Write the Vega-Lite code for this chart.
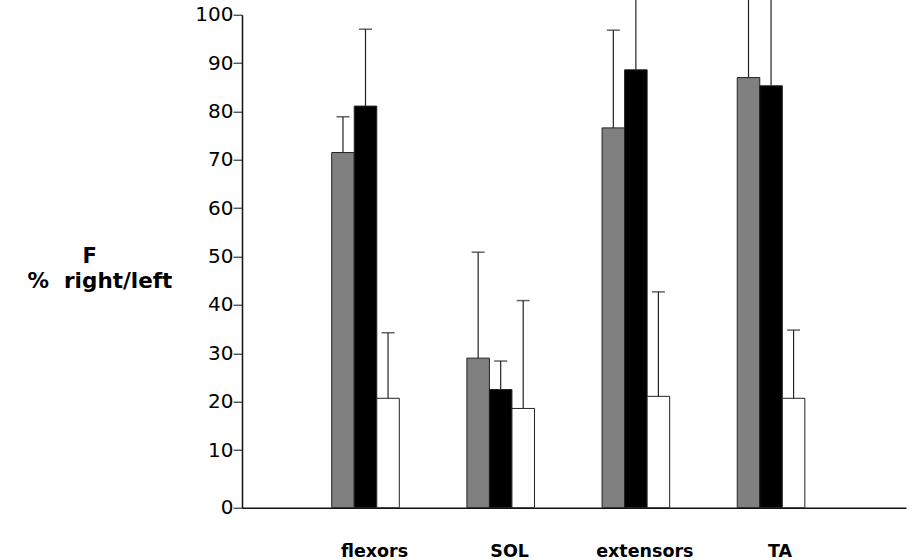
{
  "$schema": "https://vega.github.io/schema/vega-lite/v6.json",
  "autosize": {"type": "none"},
  "width": 664,
  "height": 493,
  "padding": {"left": 242, "top": 14.7, "right": 15, "bottom": 52.3},
  "background": "white",
  "config": {"view": {"stroke": null}},
  "data": {
    "values": [
      {"muscle": "flexors", "group": "g1", "value": 71.5, "hi": 78.9},
      {"muscle": "flexors", "group": "g2", "value": 81.1, "hi": 97.0},
      {"muscle": "flexors", "group": "g3", "value": 20.7, "hi": 34.25},
      {"muscle": "SOL", "group": "g1", "value": 29.0, "hi": 50.9},
      {"muscle": "SOL", "group": "g2", "value": 22.5, "hi": 28.4},
      {"muscle": "SOL", "group": "g3", "value": 18.6, "hi": 40.9},
      {"muscle": "extensors", "group": "g1", "value": 76.6, "hi": 96.8},
      {"muscle": "extensors", "group": "g2", "value": 88.6, "hi": 110},
      {"muscle": "extensors", "group": "g3", "value": 21.1, "hi": 42.7},
      {"muscle": "TA", "group": "g1", "value": 87.0, "hi": 115},
      {"muscle": "TA", "group": "g2", "value": 85.3, "hi": 112},
      {"muscle": "TA", "group": "g3", "value": 20.7, "hi": 34.8}
    ]
  },
  "encoding": {
    "x": {
      "field": "muscle",
      "type": "nominal",
      "sort": ["flexors", "SOL", "extensors", "TA"],
      "scale": {"paddingInner": 0.5, "paddingOuter": 0.706, "align": 0.47},
      "axis": {
        "title": "F",
        "titleAngle": 0,
        "titleAlign": "left",
        "titleBaseline": "alphabetic",
        "titleX": -160,
        "titleY": -245.7,
        "titleFont": "DejaVu Sans",
        "titleFontWeight": "bold",
        "titleFontSize": 21,
        "titleColor": "black",
        "labelAngle": 0,
        "ticks": false,
        "labelPadding": 35,
        "labelOffset": 9,
        "labelFont": "DejaVu Sans",
        "labelFontWeight": "bold",
        "labelFontSize": 17.5,
        "labelColor": "black",
        "domainColor": "#111",
        "domainWidth": 1.5
      }
    },
    "xOffset": {
      "field": "group",
      "type": "nominal",
      "sort": ["g1", "g2", "g3"],
      "scale": {"paddingInner": 0, "paddingOuter": 0}
    }
  },
  "layer": [
    {
      "mark": {"type": "bar", "stroke": "#222", "strokeWidth": 1},
      "encoding": {
        "y": {
          "field": "value",
          "type": "quantitative",
          "scale": {"domain": [-1.92, 100], "nice": false, "zero": false},
          "axis": {
            "values": [-1.92, 10, 20, 30, 40, 50, 60, 70, 80, 90, 100],
            "labelExpr": "datum.value < 0 ? '0' : datum.label",
            "grid": false,
            "tickSize": 9,
            "tickColor": "#111",
            "labelPadding": 0,
            "labelFont": "DejaVu Sans",
            "labelFontSize": 20,
            "labelColor": "black",
            "domainColor": "#111",
            "domainWidth": 1.5,
            "title": "%\u00a0\u00a0right/left",
            "titleAngle": 0,
            "titleAlign": "left",
            "titleBaseline": "alphabetic",
            "titleX": -215,
            "titleY": 272.3,
            "titleFont": "DejaVu Sans",
            "titleFontWeight": "bold",
            "titleFontSize": 21.5,
            "titleColor": "black"
          }
        },
        "y2": {"datum": -1.92},
        "fill": {
          "field": "group",
          "type": "nominal",
          "scale": {"domain": ["g1", "g2", "g3"], "range": ["#808080", "#000000", "#ffffff"]},
          "legend": null
        }
      }
    },
    {
      "mark": {"type": "rule", "color": "#222", "strokeWidth": 1.2},
      "encoding": {
        "y": {"field": "value", "type": "quantitative"},
        "y2": {"field": "hi"}
      }
    },
    {
      "mark": {"type": "tick", "color": "#222", "thickness": 1.5, "size": 13},
      "encoding": {
        "y": {"field": "hi", "type": "quantitative"}
      }
    }
  ]
}
